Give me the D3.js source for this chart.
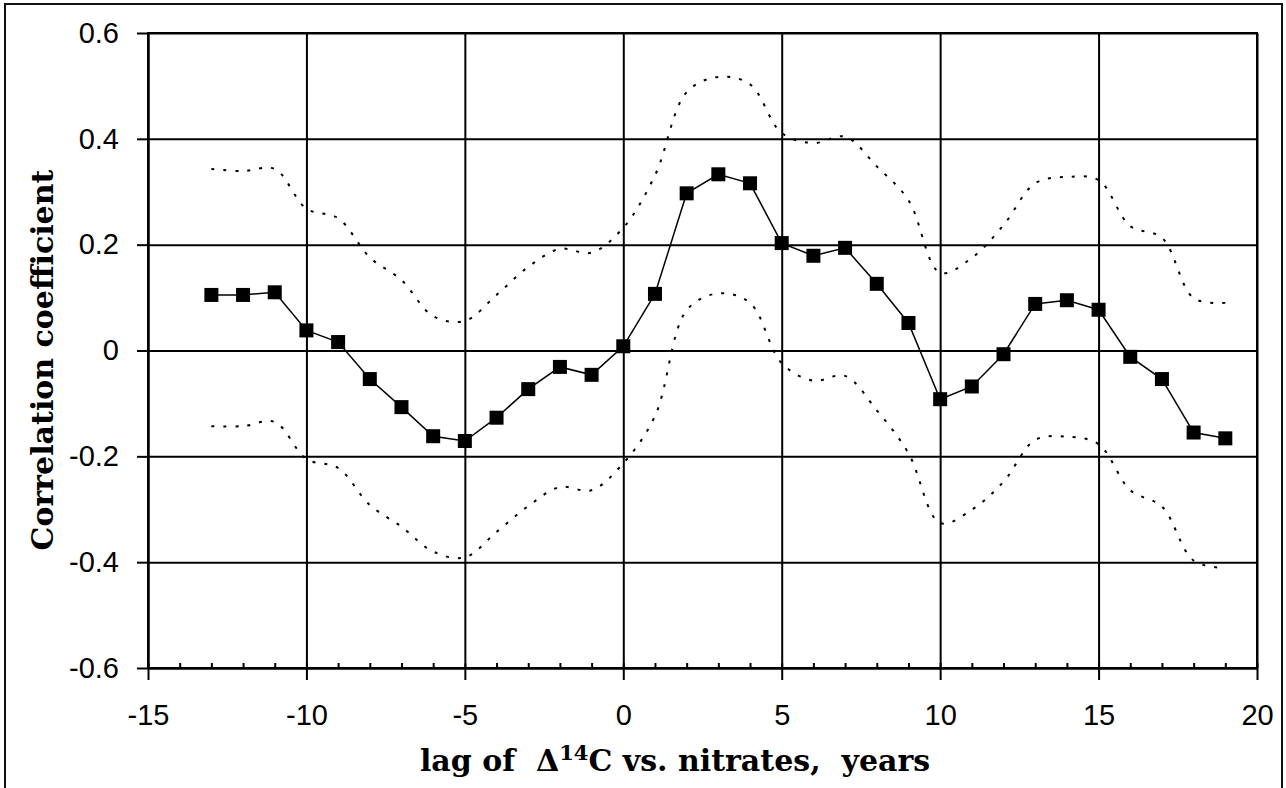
<!DOCTYPE html>
<html>
  <head>
    <meta charset="utf-8" />
    <title>Correlation coefficient vs lag</title>
    <script src="https://d3js.org/d3.v7.min.js" charset="utf-8"></script>
    <style>
      html,
      body {
        margin: 0;
        padding: 0;
        background-color: white;
      }
    </style>
  </head>
  <body>
    <svg id="chart"></svg>
    <script>
      // Data
      const lags = [
        -13, -12, -11, -10, -9, -8, -7, -6, -5, -4, -3, -2, -1, 0, 1, 2, 3, 4,
        5, 6, 7, 8, 9, 10, 11, 12, 13, 14, 15, 16, 17, 18, 19,
      ];
      const corr = [
        0.105, 0.105, 0.11, 0.038, 0.016, -0.054, -0.107, -0.162, -0.171,
        -0.127, -0.073, -0.031, -0.046, 0.008, 0.107, 0.297, 0.333, 0.316,
        0.203, 0.179, 0.194, 0.126, 0.052, -0.092, -0.068, -0.007, 0.088,
        0.095, 0.077, -0.012, -0.054, -0.155, -0.166,
      ];
      const upper = [
        0.343, 0.339, 0.343, 0.268, 0.25, 0.176, 0.133, 0.065, 0.056, 0.105,
        0.158, 0.192, 0.185, 0.232, 0.331, 0.488, 0.517, 0.503, 0.411, 0.392,
        0.404, 0.348, 0.284, 0.147, 0.175, 0.237, 0.316, 0.328, 0.322, 0.235,
        0.213, 0.099, 0.09,
      ];
      const lower = [
        -0.143, -0.143, -0.135, -0.205, -0.222, -0.292, -0.333, -0.38, -0.391,
        -0.343, -0.294, -0.258, -0.264, -0.213, -0.124, 0.076, 0.108, 0.09,
        -0.024, -0.057, -0.048, -0.113, -0.194, -0.326, -0.301, -0.248,
        -0.169, -0.163, -0.177, -0.264, -0.295, -0.397, -0.411,
      ];
      const xTicks = [-15, -10, -5, 0, 5, 10, 15, 20];
      const xMinorTicks = d3.range(-15, 21);
      const yTicks = [-0.6, -0.4, -0.2, 0, 0.2, 0.4, 0.6];

      // SVG size
      const width = 1286;
      const height = 788;

      // plot box
      const pLeft = 148;
      const pRight = 1257;
      const pTop = 33;
      const pBottom = 668;

      const svg = d3
        .select("#chart")
        .attr("width", width)
        .attr("height", height)
        .style("display", "block");

      // outer frame
      svg
        .append("rect")
        .attr("x", 5)
        .attr("y", 4)
        .attr("width", 1277)
        .attr("height", 790)
        .attr("fill", "white")
        .attr("stroke", "#111")
        .attr("stroke-width", 2);

      const x = d3.scaleLinear().domain([-15, 20]).range([pLeft, pRight]);
      const y = d3.scaleLinear().domain([-0.6, 0.6]).range([pBottom, pTop]);

      const fmt = (d) => String(d);

      // grid lines
      svg
        .append("g")
        .attr("transform", `translate(${pLeft},0)`)
        .call(d3.axisLeft(y).tickValues(yTicks).tickSize(-(pRight - pLeft)).tickFormat(""))
        .call((g) => g.select(".domain").remove())
        .selectAll("line")
        .attr("stroke", "black")
        .attr("stroke-width", 2);

      svg
        .append("g")
        .attr("transform", `translate(0,${pBottom})`)
        .call(d3.axisBottom(x).tickValues(xTicks).tickSize(-(pBottom - pTop)).tickFormat(""))
        .call((g) => g.select(".domain").remove())
        .selectAll("line")
        .attr("stroke", "black")
        .attr("stroke-width", 2);

      // minor ticks on x axis (inside)
      svg
        .append("g")
        .attr("transform", `translate(0,${pBottom})`)
        .call(d3.axisBottom(x).tickValues(xMinorTicks).tickSize(-5).tickFormat(""))
        .call((g) => g.select(".domain").remove())
        .selectAll("line")
        .attr("stroke", "black")
        .attr("stroke-width", 2);

      // y axis with labels
      const yAxis = svg
        .append("g")
        .attr("transform", `translate(${pLeft},0)`)
        .call(d3.axisLeft(y).tickValues(yTicks).tickSize(11).tickSizeOuter(0).tickPadding(18).tickFormat(fmt));

      // x axis with labels
      const xAxis = svg
        .append("g")
        .attr("transform", `translate(0,${pBottom})`)
        .call(d3.axisBottom(x).tickValues(xTicks).tickSize(12).tickSizeOuter(0).tickPadding(24).tickFormat(fmt));

      [yAxis, xAxis].forEach((g) => {
        g.select(".domain").attr("stroke", "black").attr("stroke-width", 2);
        g.selectAll("line").attr("stroke", "black").attr("stroke-width", 2);
        g.selectAll("text")
          .attr("fill", "black")
          .style("font-family", "'Liberation Sans', Arial, sans-serif")
          .style("font-size", "29px");
      });

      // plot border
      svg
        .append("rect")
        .attr("x", pLeft)
        .attr("y", pTop)
        .attr("width", pRight - pLeft)
        .attr("height", pBottom - pTop)
        .attr("fill", "none")
        .attr("stroke", "black")
        .attr("stroke-width", 2);

      // confidence bounds (dotted, smoothed)
      const bound = d3
        .line()
        .x((d, i) => x(lags[i]))
        .y((d) => y(d))
        .curve(d3.curveCatmullRom);

      [upper, lower].forEach((s) => {
        svg
          .append("path")
          .attr("d", bound(s))
          .attr("fill", "none")
          .attr("stroke", "black")
          .attr("stroke-width", 2)
          .attr("stroke-dasharray", "3,9");
      });

      // correlation line
      const line = d3
        .line()
        .x((d, i) => x(lags[i]))
        .y((d) => y(d));

      svg
        .append("path")
        .attr("d", line(corr))
        .attr("fill", "none")
        .attr("stroke", "black")
        .attr("stroke-width", 1.5);

      const sq = 14;
      svg
        .append("g")
        .selectAll("rect")
        .data(corr)
        .enter()
        .append("rect")
        .attr("x", (d, i) => x(lags[i]) - sq / 2)
        .attr("y", (d) => y(d) - sq / 2)
        .attr("width", sq)
        .attr("height", sq)
        .attr("fill", "black");

      // axis titles
      const titleFont = "'DejaVu Serif', 'Liberation Serif', serif";

      const xt = svg
        .append("text")
        .attr("x", 675)
        .attr("y", 771)
        .attr("text-anchor", "middle")
        .style("font-family", titleFont)
        .style("font-weight", "bold")
        .style("font-size", "30px")
        .attr("xml:space", "preserve");
      xt.append("tspan").text("lag of  \u0394");
      xt.append("tspan").attr("dy", -11).style("font-size", "21px").text("14");
      xt.append("tspan").attr("dy", 11).text("C vs. nitrates,  years");

      svg
        .append("text")
        .attr("transform", "translate(53,360) rotate(-90)")
        .attr("text-anchor", "middle")
        .style("font-family", titleFont)
        .style("font-weight", "bold")
        .style("font-size", "30px")
        .text("Correlation coefficient");
    </script>
  </body>
</html>
